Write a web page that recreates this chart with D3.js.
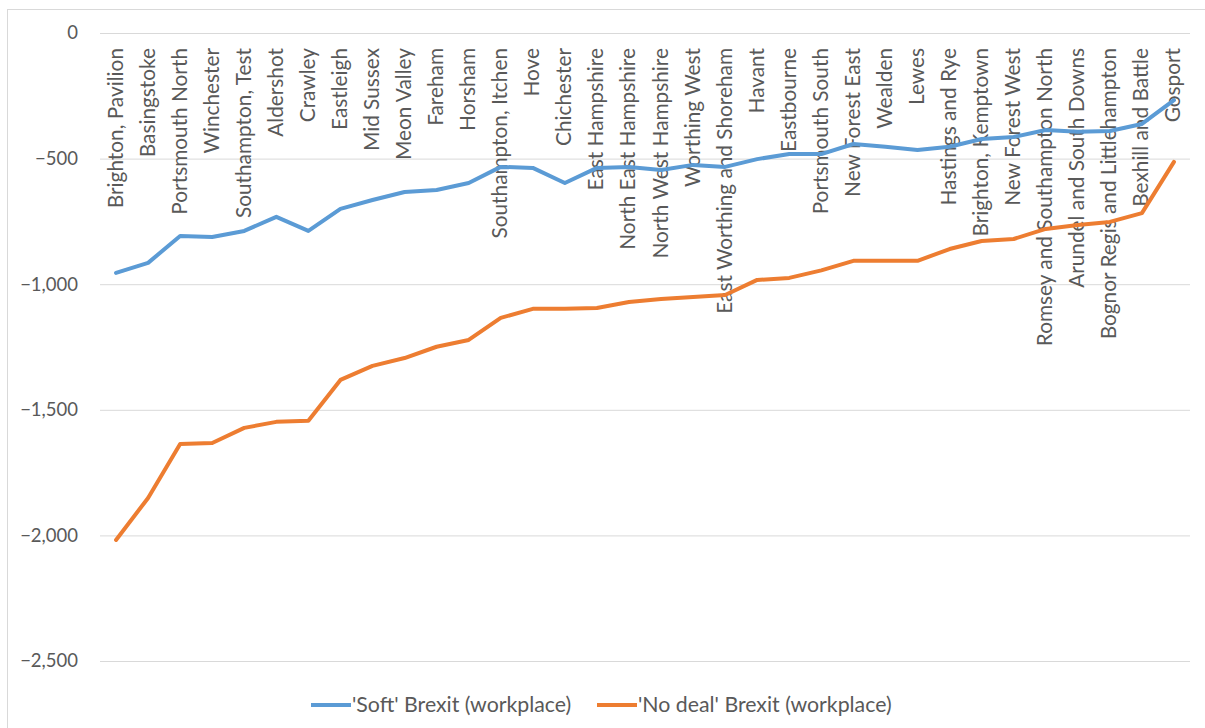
<!DOCTYPE html>
<html>
<head>
<meta charset="utf-8">
<script src="https://cdn.jsdelivr.net/npm/d3@7"></script>
<style>
  body { margin: 0; background: #fff; }
  text { font-family: Lato, "Open Sans", sans-serif; }
</style>
</head>
<body>
<div id="chart"></div>
<script>
// constituencies, ordered as in the chart
var constituencies = [
  "Brighton, Pavilion", "Basingstoke", "Portsmouth North", "Winchester",
  "Southampton, Test", "Aldershot", "Crawley", "Eastleigh", "Mid Sussex",
  "Meon Valley", "Fareham", "Horsham", "Southampton, Itchen", "Hove",
  "Chichester", "East Hampshire", "North East Hampshire", "North West Hampshire",
  "Worthing West", "East Worthing and Shoreham", "Havant", "Eastbourne",
  "Portsmouth South", "New Forest East", "Wealden", "Lewes", "Hastings and Rye",
  "Brighton, Kemptown", "New Forest West", "Romsey and Southampton North",
  "Arundel and South Downs", "Bognor Regis and Littlehampton", "Bexhill and Battle",
  "Gosport"
];

// 'Soft' Brexit (workplace), jobs
var softBrexit = [
  -955, -915, -808, -812, -788, -732, -788, -700, -665, -633,
  -625, -597, -533, -537, -597, -537, -533, -545, -525, -533,
  -502, -482, -482, -442, -453, -466, -453, -422, -414, -386,
  -393, -390, -362, -267
];

// 'No deal' Brexit (workplace), jobs
var noDealBrexit = [
  -2018, -1851, -1636, -1632, -1572, -1548, -1544, -1381, -1325, -1294,
  -1249, -1222, -1134, -1098, -1098, -1095, -1071, -1059, -1051, -1043,
  -983, -975, -945, -907, -907, -907, -860, -828, -820, -780,
  -764, -752, -717, -513
];

var yTicks = [0, -500, -1000, -1500, -2000, -2500];
var seriesNames = ["'Soft' Brexit (workplace)", "'No deal' Brexit (workplace)"];
var seriesColors = ["#5B9BD5", "#ED7D31"];

var width = 1205, height = 728,
    margin = {top: 33, right: 15, bottom: 67, left: 100};

var svg = d3.select("#chart")
  .append("svg")
    .attr("width", width)
    .attr("height", height);

// outer chart border
svg.append("rect")
    .attr("x", 7.5)
    .attr("y", 9.5)
    .attr("width", width)
    .attr("height", height)
    .attr("fill", "none")
    .attr("stroke", "#d9d9d9");

var x = d3.scaleBand()
    .domain(constituencies)
    .range([margin.left, width - margin.right]);

var y = d3.scaleLinear()
    .domain([-2500, 0])
    .range([height - margin.bottom, margin.top]);

// gridlines + y labels
var yAxis = svg.append("g")
    .attr("transform", "translate(" + margin.left + ",0)")
    .call(d3.axisLeft(y)
      .tickValues(yTicks)
      .tickSize(-(width - margin.right - margin.left))
      .tickPadding(22)
      .tickFormat(d3.format(",")));
yAxis.select(".domain").remove();
yAxis.selectAll(".tick line").attr("stroke", "#d9d9d9");
yAxis.selectAll(".tick text")
    .attr("fill", "#595959")
    .attr("font-size", "18.5px")
    .attr("font-family", "Lato, sans-serif");

// category labels, hanging below the zero line
svg.append("g")
  .selectAll("text")
  .data(constituencies)
  .join("text")
    .attr("transform", function(d) {
      return "translate(" + (x(d) + x.bandwidth() / 2 + 6.5) + "," + (y(0) + 15) + ") rotate(-90)";
    })
    .attr("text-anchor", "end")
    .attr("fill", "#595959")
    .attr("font-size", "20.8px")
    .text(function(d) { return d; });

var line = d3.line()
    .x(function(d, i) { return x(constituencies[i]) + x.bandwidth() / 2; })
    .y(function(d) { return y(d); });

[softBrexit, noDealBrexit].forEach(function(vals, k) {
  svg.append("path")
      .datum(vals)
      .attr("fill", "none")
      .attr("stroke", seriesColors[k])
      .attr("stroke-width", 4)
      .attr("stroke-linejoin", "round")
      .attr("stroke-linecap", "round")
      .attr("d", line);
});

// legend
var legendX = [311, 597], legendY = 705;
var legend = svg.append("g")
  .selectAll("g")
  .data(seriesNames)
  .join("g")
    .attr("transform", function(d, i) { return "translate(" + legendX[i] + "," + legendY + ")"; });
legend.append("line")
    .attr("x1", 0).attr("x2", 40)
    .attr("stroke", function(d, i) { return seriesColors[i]; })
    .attr("stroke-width", 4);
legend.append("text")
    .attr("x", 41)
    .attr("dy", "0.35em")
    .attr("fill", "#595959")
    .attr("font-size", "21.3px")
    .text(function(d) { return d; });
</script>
</body>
</html>
